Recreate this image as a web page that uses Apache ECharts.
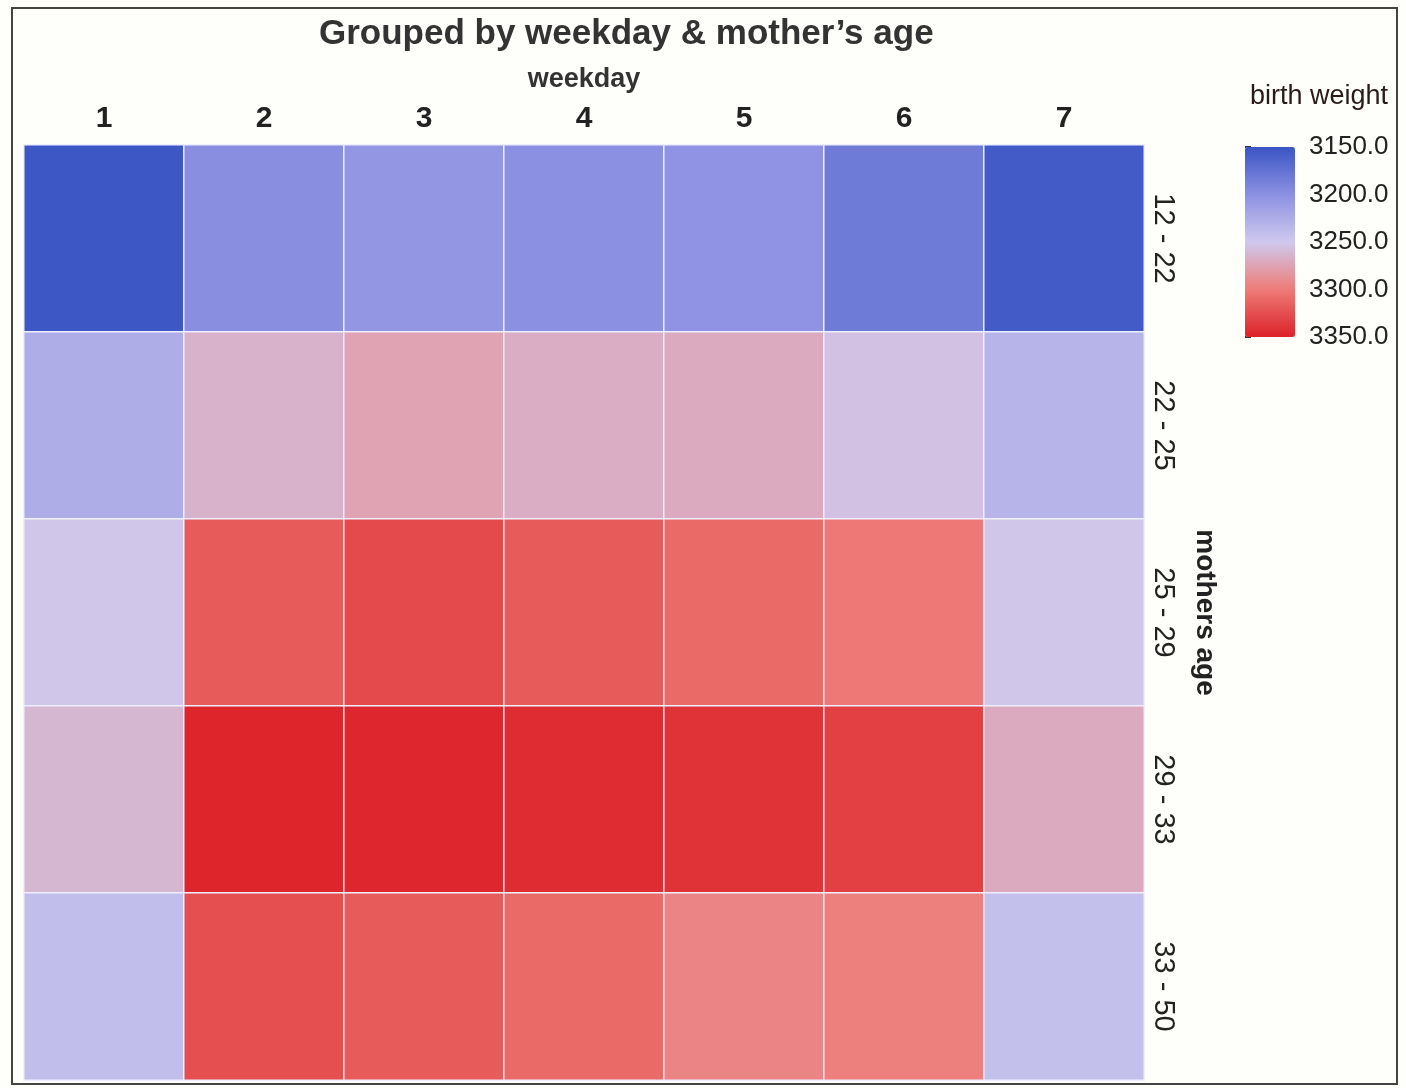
<!DOCTYPE html>
<html>
<head>
<meta charset="utf-8">
<script src="https://cdn.jsdelivr.net/npm/echarts@6/dist/echarts.min.js"></script>
<style>
  html, body { margin: 0; padding: 0; background: #fefefb; }
  #chart { width: 1406px; height: 1088px; }
</style>
</head>
<body>
<div id="chart"></div>
<script>
var weekdays = ['1', '2', '3', '4', '5', '6', '7'];
var ageGroups = ['12 - 22', '22 - 25', '25 - 29', '29 - 33', '33 - 50'];
// birth weight per age group (rows), one value per weekday
var age12to22 = [3152, 3198, 3205, 3200, 3203, 3182, 3155];
var age22to25 = [3225, 3265, 3275, 3268, 3270, 3255, 3232];
var age25to29 = [3252, 3318, 3328, 3318, 3310, 3302, 3252];
var age29to33 = [3262, 3348, 3347, 3344, 3340, 3333, 3270];
var age33to50 = [3240, 3325, 3318, 3310, 3295, 3298, 3242];
var scaleTicks = [3150, 3200, 3250, 3300, 3350];

var narrow = "'Liberation Sans Narrow', 'Liberation Sans', Arial, sans-serif";
var rows = [age12to22, age22to25, age25to29, age29to33, age33to50];
var cells = [];
rows.forEach(function (row, r) {
    row.forEach(function (v, c) {
        cells.push([c, r, v]);
    });
});

var chart = echarts.init(document.getElementById('chart'));
var option = {
    backgroundColor: '#fefefb',
    animation: false,
    title: [{
        text: 'Grouped by weekday & mother\u2019s age',
        left: 314,
        top: 12,
        textStyle: { fontFamily: 'Liberation Sans, Arial', fontSize: 35, fontWeight: 'bold', color: '#333' }
    }, {
        text: 'birth weight',
        left: 1245,
        top: 78,
        textStyle: { fontFamily: narrow, fontSize: 27, fontWeight: 'normal', color: '#2a1a1a' }
    }],
    graphic: [{
        type: 'rect',
        shape: { x: 12, y: 8, width: 1385, height: 1076 },
        style: { fill: null, stroke: '#444', lineWidth: 2 },
        silent: true
    }],
    grid: [{
        left: 24, right: 262, top: 145, bottom: 8
    }, {
        left: 1245, top: 147, width: 50, height: 190
    }],
    xAxis: [{
        type: 'category',
        data: weekdays,
        position: 'top',
        name: 'weekday',
        nameLocation: 'middle',
        nameGap: 52,
        nameTextStyle: { fontFamily: narrow, fontSize: 27, fontWeight: 'bold', color: '#333' },
        axisLine: { show: false },
        axisTick: { show: false },
        splitLine: { show: false },
        axisLabel: { margin: 11, fontFamily: narrow, fontSize: 30, fontWeight: 'bold', color: '#222' }
    }, {
        gridIndex: 1, type: 'value', show: false
    }],
    yAxis: [{
        type: 'category',
        data: ageGroups,
        inverse: true,
        position: 'right',
        name: 'mothers age',
        nameLocation: 'middle',
        nameRotate: -90,
        nameGap: 47,
        nameTextStyle: { fontFamily: narrow, fontSize: 28, fontWeight: 'bold', color: '#222' },
        axisLine: { show: false },
        axisTick: { show: false },
        splitLine: { show: false },
        axisLabel: { rotate: -90, margin: 4, fontFamily: narrow, fontSize: 29, color: '#222' }
    }, {
        gridIndex: 1,
        type: 'value',
        min: 3150,
        max: 3350,
        interval: 50,
        inverse: true,
        position: 'right',
        axisLine: { show: false },
        axisTick: { show: true, length: 6, lineStyle: { color: '#333', width: 2 } },
        splitLine: { show: false },
        axisLabel: {
            margin: 14,
            fontFamily: narrow,
            fontSize: 26,
            color: '#222',
            customValues: scaleTicks,
            formatter: function (v) { return v.toFixed(1); }
        }
    }],
    visualMap: {
        type: 'continuous',
        min: 3150,
        max: 3350,
        inverse: true,
        orient: 'vertical',
        left: 1245,
        top: 147,
        padding: 0,
        itemWidth: 50,
        itemHeight: 190,
        calculable: false,
        hoverLink: false,
        text: null,
        inRange: { color: ['#3a55c4', '#8c90e2', '#cfc9ee', '#ee7c78', '#dc2128'] }
    },
    series: [{
        type: 'heatmap',
        xAxisIndex: 0,
        yAxisIndex: 0,
        data: cells,
        itemStyle: { borderColor: '#eef0ff', borderWidth: 1.5 },
        emphasis: { disabled: true }
    }]
};
chart.setOption(option);
</script>
</body>
</html>
